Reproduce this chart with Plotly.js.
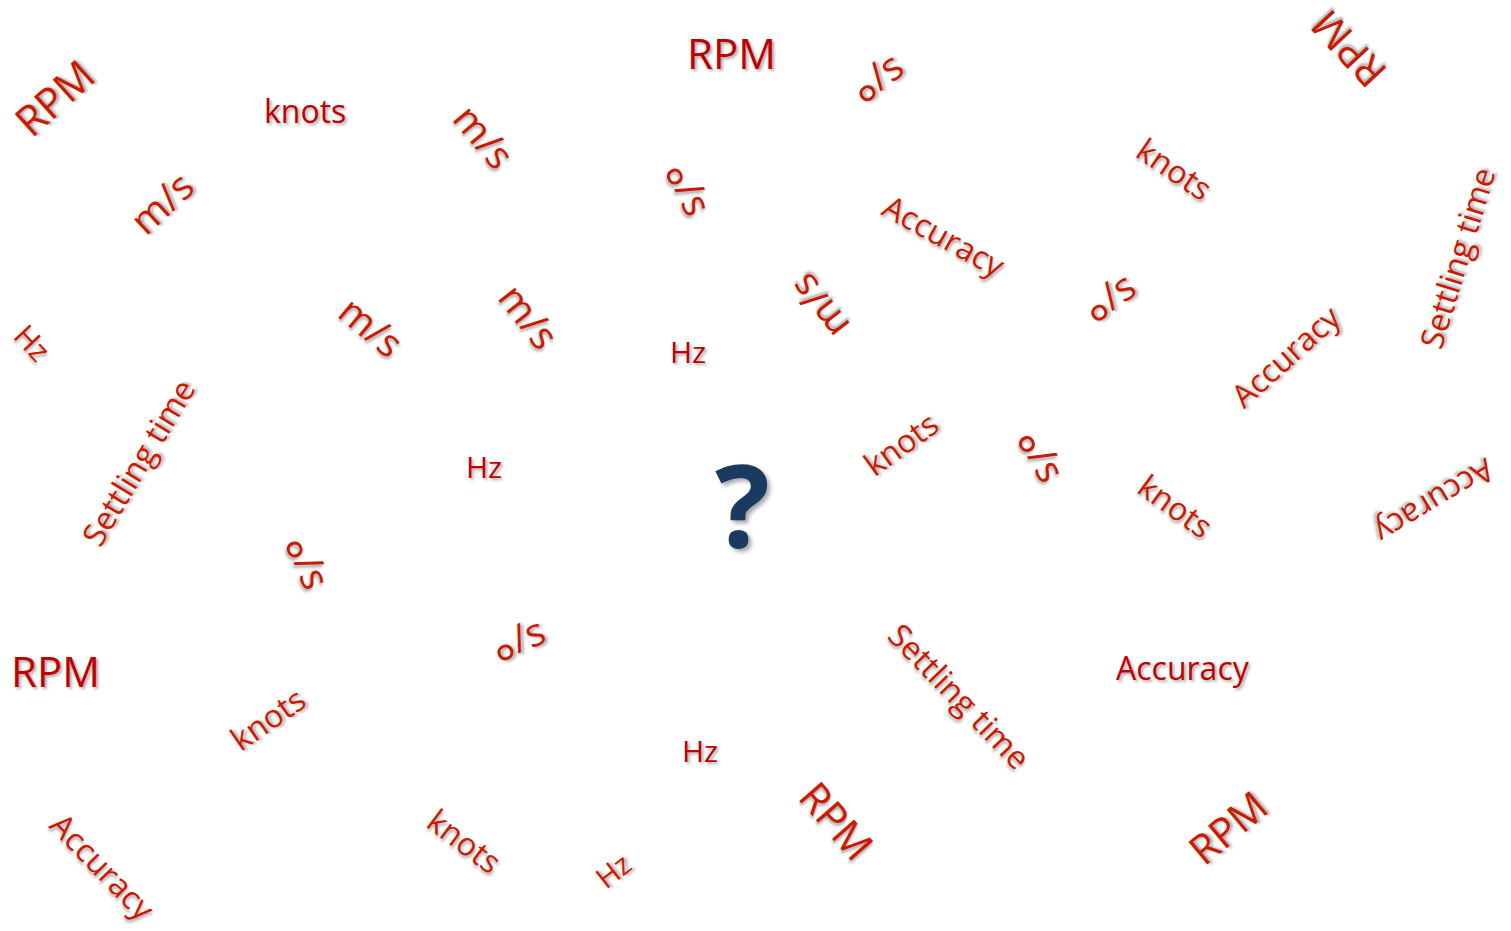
<!DOCTYPE html>
<html>
<head>
<meta charset="utf-8">
<script src="https://cdn.plot.ly/plotly-3.0.1.min.js"></script>
<style>
  html, body { margin: 0; padding: 0; background: #ffffff; }
  #chart { width: 1511px; height: 931px; }
</style>
</head>
<body>
<div id="chart"></div>
<script>
// Word-cloud terms
const words = [
  "RPM", "knots", "m/s", "m/s", "RPM", "°/s", "°/s", "Accuracy", "m/s", "m/s",
  "m/s", "Hz", "Hz", "°/s", "Accuracy", "Settling time", "RPM", "knots", "Settling time", "Hz",
  "knots", "°/s", "knots", "Accuracy", "°/s", "RPM", "°/s", "knots", "Settling time", "Accuracy",
  "Hz", "Accuracy", "knots", "Hz", "RPM", "RPM"
];
// Word positions (x, y in picture units) and rotations (degrees)
const wordX = [
  53, 305, 485, 160, 731, 883, 678, 945, 818, 372,
  530, 33, 688, 1115, 1285, 1456, 1348, 1175, 137, 484,
  900, 1031, 1176, 1435, 297, 55, 522, 267, 960, 1183,
  700, 104, 465, 612, 837, 1227
];
const wordY = [
  97, 110, 135, 202, 52, 87, 193, 235, 308, 325,
  315, 342, 351, 307, 355, 258, 50, 168, 462, 466,
  443, 460, 505, 503, 566, 670, 650, 718, 695, 667,
  750, 866, 840, 870, 820, 827
];
const wordAngle = [
  -42, 0, 50, -43, 0, -36, 65, 29, -128, 40,
  52, 47, 0, -34, -42, -73, -133, 34, -59, 0,
  -36, 62, 36, 149, 68, 0, -22, -35, 46, 0,
  0, 46, 37, -38, 49, -40
];
const wordWeight = [
  42, 32, 39, 39, 42, 39, 39, 32, 39, 39,
  39, 30, 30, 39, 32, 32, 41, 32, 32, 30,
  32, 39, 32, 32, 39, 42, 39, 32, 32, 32,
  30, 32, 32, 29, 41, 41
];
// Central mark
const markText = ["?"];
const markX = [742];
const markY = [502];

const FONT = '"Open Sans", "Noto Sans", Lato, sans-serif';
const SHADOW = '2px 2px 3px rgba(0,0,0,0.35)';

function label(w) {
  if (w === "°/s") {
    return '<span style="font-size:130%;baseline-shift:-0.46em">°</span>/s';
  }
  return w;
}

const annotations = words.map((w, i) => ({
  x: wordX[i], y: wordY[i], xref: 'x', yref: 'y',
  text: label(w), showarrow: false, textangle: wordAngle[i],
  xanchor: 'center', yanchor: 'middle',
  font: {
    family: FONT, size: wordWeight[i],
    color: wordAngle[i] === 0 ? '#C00000' : '#CC1A00',
    shadow: SHADOW
  }
}));

markText.forEach((t, i) => {
  annotations.push({
    x: markX[i], y: markY[i], xref: 'x', yref: 'y',
    text: t, showarrow: false, textangle: 0,
    xanchor: 'center', yanchor: 'middle',
    font: { family: FONT, size: 115, weight: 'bold', color: '#1B3A5F', shadow: '3px 3px 4px rgba(0,0,0,0.35)' }
  });
});

const data = [{ x: [], y: [], type: 'scatter', mode: 'markers', hoverinfo: 'skip', showlegend: false }];

const layout = {
  width: 1511, height: 931,
  margin: { l: 0, r: 0, t: 0, b: 0, pad: 0 },
  paper_bgcolor: '#ffffff', plot_bgcolor: '#ffffff',
  xaxis: { range: [0, 1511], visible: false, fixedrange: true },
  yaxis: { range: [931, 0], visible: false, fixedrange: true },
  showlegend: false,
  annotations: annotations
};

Plotly.newPlot('chart', data, layout, { displayModeBar: false, staticPlot: true });
</script>
</body>
</html>
